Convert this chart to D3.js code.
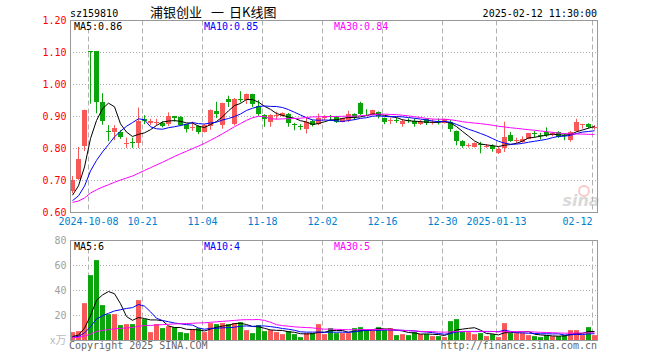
<!DOCTYPE html>
<html><head><meta charset="utf-8">
<script src="https://cdn.jsdelivr.net/npm/d3@7/dist/d3.min.js"></script>
<style>html,body{margin:0;padding:0;background:#fff;}svg{display:block;}</style>
</head><body>
<svg id="chart" width="660" height="360"></svg>
<script>
const dates = ["2024-09-26","2024-09-27","2024-09-30","2024-10-08","2024-10-09","2024-10-10","2024-10-11","2024-10-14","2024-10-15","2024-10-16","2024-10-17","2024-10-18","2024-10-21","2024-10-22","2024-10-23","2024-10-24","2024-10-25","2024-10-28","2024-10-29","2024-10-30","2024-10-31","2024-11-01","2024-11-04","2024-11-05","2024-11-06","2024-11-07","2024-11-08","2024-11-11","2024-11-12","2024-11-13","2024-11-14","2024-11-15","2024-11-18","2024-11-19","2024-11-20","2024-11-21","2024-11-22","2024-11-25","2024-11-26","2024-11-27","2024-11-28","2024-11-29","2024-12-02","2024-12-03","2024-12-04","2024-12-05","2024-12-06","2024-12-09","2024-12-10","2024-12-11","2024-12-12","2024-12-13","2024-12-16","2024-12-17","2024-12-18","2024-12-19","2024-12-20","2024-12-23","2024-12-24","2024-12-25","2024-12-26","2024-12-27","2024-12-30","2024-12-31","2025-01-02","2025-01-03","2025-01-06","2025-01-07","2025-01-08","2025-01-09","2025-01-10","2025-01-13","2025-01-14","2025-01-15","2025-01-16","2025-01-17","2025-01-20","2025-01-21","2025-01-22","2025-01-23","2025-01-24","2025-01-27","2025-02-05","2025-02-06","2025-02-07","2025-02-10","2025-02-11","2025-02-12"];
const opens = [0.668,0.705,0.808,1.104,1.104,0.944,0.856,0.852,0.853,0.813,0.821,0.816,0.891,0.879,0.881,0.881,0.875,0.901,0.899,0.875,0.864,0.870,0.853,0.870,0.917,0.873,0.954,0.875,0.955,0.951,0.970,0.933,0.904,0.883,0.902,0.902,0.909,0.875,0.870,0.862,0.887,0.876,0.894,0.900,0.898,0.884,0.889,0.909,0.941,0.905,0.906,0.914,0.895,0.887,0.890,0.876,0.889,0.885,0.877,0.892,0.881,0.886,0.881,0.883,0.854,0.824,0.808,0.806,0.815,0.806,0.807,0.787,0.800,0.841,0.825,0.821,0.831,0.848,0.843,0.852,0.845,0.852,0.843,0.826,0.855,0.874,0.878,0.864];
const highs = [0.714,0.805,0.921,1.104,1.104,0.973,0.873,0.873,0.857,0.834,0.834,0.928,0.904,0.893,0.893,0.885,0.913,0.902,0.901,0.877,0.884,0.873,0.877,0.922,0.946,0.943,0.965,0.958,0.979,0.972,0.971,0.951,0.907,0.907,0.915,0.913,0.911,0.880,0.876,0.899,0.890,0.909,0.904,0.905,0.902,0.896,0.918,0.910,0.946,0.923,0.921,0.916,0.897,0.896,0.896,0.892,0.894,0.894,0.889,0.894,0.892,0.894,0.893,0.889,0.856,0.826,0.816,0.819,0.821,0.814,0.813,0.805,0.884,0.852,0.834,0.838,0.849,0.855,0.849,0.866,0.852,0.854,0.847,0.855,0.893,0.877,0.879,0.873];
const lows = [0.660,0.702,0.792,0.940,0.910,0.874,0.823,0.826,0.830,0.802,0.802,0.802,0.876,0.873,0.873,0.866,0.870,0.884,0.870,0.850,0.855,0.845,0.850,0.858,0.895,0.862,0.930,0.872,0.944,0.939,0.930,0.902,0.868,0.868,0.891,0.900,0.868,0.857,0.858,0.847,0.869,0.873,0.888,0.886,0.880,0.882,0.883,0.889,0.904,0.902,0.904,0.894,0.876,0.876,0.880,0.868,0.880,0.868,0.873,0.873,0.875,0.875,0.878,0.852,0.810,0.802,0.803,0.803,0.785,0.802,0.790,0.783,0.789,0.821,0.816,0.818,0.829,0.834,0.828,0.836,0.838,0.833,0.826,0.821,0.852,0.862,0.862,0.859];
const closes = [0.701,0.767,0.920,1.103,0.946,0.886,0.853,0.864,0.836,0.818,0.817,0.886,0.887,0.886,0.884,0.871,0.901,0.894,0.874,0.860,0.868,0.852,0.874,0.920,0.908,0.941,0.946,0.956,0.953,0.970,0.938,0.907,0.891,0.906,0.904,0.910,0.881,0.872,0.868,0.883,0.872,0.894,0.901,0.897,0.884,0.894,0.909,0.899,0.909,0.903,0.920,0.903,0.883,0.890,0.888,0.885,0.887,0.877,0.883,0.879,0.884,0.884,0.892,0.860,0.823,0.808,0.811,0.816,0.813,0.808,0.797,0.797,0.836,0.824,0.827,0.831,0.847,0.846,0.841,0.842,0.848,0.837,0.841,0.852,0.883,0.876,0.866,0.867];
const volumes = [6.7,7.5,29.9,52.3,64.3,28.3,21.1,21.1,12.3,13.1,13.1,32.3,17.1,6.7,13.1,9.9,11.5,10.7,6.7,5.9,9.1,9.9,6.7,13.9,13.1,13.9,13.1,13.9,14.7,8.3,5.9,12.3,7.5,8.3,6.7,5.1,7.5,5.1,2.7,5.9,5.9,13.1,5.1,9.9,5.9,5.9,5.9,9.9,10.7,8.3,8.3,10.7,8.3,9.9,4.3,5.1,4.3,6.7,5.1,5.1,3.5,3.5,2.7,15.5,17.1,6.7,6.7,5.1,5.9,3.5,5.1,2.7,13.9,5.9,5.9,5.9,4.3,3.5,2.7,4.3,3.5,3.5,4.3,8.3,8.3,4.3,10.7,4.3];
// closes / volumes of the 29 sessions before the first shown bar (only feed the moving averages)
const priorCloses = [0.641,0.638,0.640,0.636,0.633,0.635,0.631,0.628,0.630,0.626,0.629,0.625,0.627,0.624,0.622,0.626,0.623,0.620,0.624,0.622,0.615,0.620,0.625,0.618,0.622,0.620,0.625,0.660,0.664];
const priorVolumes = [2.3,2.1,2.2,2.4,2.0,2.2,2.3,2.1,2.2,2.4,2.2,2.0,2.3,2.2,2.1,2.4,2.2,2.3,2.1,2.2,2.2,2.1,2.3,2.2,2.2,2.0,2.1,2.6,2.6];
const tickDates = ["2024-10-08","2024-10-21","2024-11-04","2024-11-18","2024-12-02","2024-12-16","2024-12-30","2025-01-13","2025-02-12"];
const tickLabels = ["2024-10-08","10-21","11-04","11-18","12-02","12-16","12-30","2025-01-13","02-12"];
const priceTicks = [0.60,0.70,0.80,0.90,1.00,1.10,1.20];
const volumeTicks = [20,40,60,80];
const maPeriods = [5,10,30];
const priceMaLabels = ["MA5:0.86","MA10:0.85","MA30:0.84"];
const volumeMaLabels = ["MA5:6","MA10:4","MA30:5"];
const titleParts = ["浦银创业","一","日K线图"];
const code = "sz159810";
const stamp = "2025-02-12 11:30:00";

const RED = "#f85858", GREEN = "#0aa50a";
const maColors = ["#000000","#0000ff","#ff00ff"];
const MONO = "'DejaVu Sans Mono', monospace";
const CJK = "'Noto Sans CJK SC', sans-serif";

const svg = d3.select("#chart");
const x = d3.scaleBand().domain(dates).range([70, 598]).padding(0);
const yP = d3.scaleLinear().domain([0.6, 1.2]).range([212.5, 20.5]);
const yV = d3.scaleLinear().domain([0, 80]).range([340.5, 240.5]);
const cx = d => x(d) + 2.5;

function movingAvg(prior, vals, n) {
  const all = prior.concat(vals), off = prior.length;
  return vals.map((v, i) => d3.mean(all.slice(off + i - n + 1, off + i + 1)));
}

const bars = dates.map((d, i) => ({d, o: opens[i], h: highs[i], l: lows[i], c: closes[i], v: volumes[i]}));
const colorOf = b => b.c >= b.o ? RED : GREEN;

// titles
svg.append("text").attr("x", 70).attr("y", 16.5).attr("font-family", MONO).attr("font-size", 10).attr("fill", "#000").text(code);
const titleX = [150, 211, 229];
titleParts.forEach((t, k) => {
  svg.append("text").attr("x", titleX[k]).attr("y", 17).attr("font-family", CJK).attr("font-size", 13).attr("fill", "#000").text(t);
});
svg.append("text").attr("x", 597).attr("y", 16.5).attr("text-anchor", "end").attr("font-family", MONO).attr("font-size", 10).attr("fill", "#000").text(stamp);

// grids
const gridG = svg.append("g");
priceTicks.filter(t => t > 0.6 && t < 1.2).forEach(t => {
  gridG.append("line").attr("x1", 70).attr("x2", 597).attr("y1", yP(t)).attr("y2", yP(t))
    .attr("stroke", "#aaa").attr("stroke-dasharray", "1,2");
});
volumeTicks.filter(t => t < 80).forEach(t => {
  gridG.append("line").attr("x1", 70).attr("x2", 597).attr("y1", yV(t)).attr("y2", yV(t))
    .attr("stroke", "#aaa").attr("stroke-dasharray", "1,2");
});
tickDates.forEach(d => {
  const gx = x(d) + 0.5;
  [[yP(1.2), yP(0.6)], [yV(80), yV(0)]].forEach(([a, b]) => {
    gridG.append("line").attr("x1", gx).attr("x2", gx).attr("y1", a).attr("y2", b)
      .attr("stroke", "#b0b0b0").attr("stroke-dasharray", "5,3");
  });
});

// watermark
const wm = svg.append("g").attr("opacity", 0.55);
wm.append("circle").attr("cx", 584).attr("cy", 191).attr("r", 5).attr("fill", "none").attr("stroke", "#f2a0a0").attr("stroke-width", 2);
wm.append("text").attr("x", 581).attr("y", 206).attr("text-anchor", "middle").attr("font-family", "'DejaVu Sans', sans-serif")
  .attr("font-style", "italic").attr("font-weight", "bold").attr("font-size", 16).attr("fill", "#bbb").text("sina");

// candles
const cg = svg.append("g");
bars.forEach(b => {
  const col = colorOf(b);
  cg.append("line").attr("x1", cx(b.d)).attr("x2", cx(b.d)).attr("y1", yP(b.h)).attr("y2", yP(b.l))
    .attr("stroke", col).attr("stroke-width", 1);
  const top = yP(Math.max(b.o, b.c)), bot = yP(Math.min(b.o, b.c));
  cg.append("rect").attr("x", x(b.d)).attr("width", 5).attr("y", Math.round(top))
    .attr("height", Math.max(1, Math.round(bot) - Math.round(top))).attr("fill", col);
});

// volume bars
const vg = svg.append("g");
bars.forEach(b => {
  vg.append("rect").attr("x", x(b.d)).attr("width", 5).attr("y", yV(b.v)).attr("height", yV(0) - yV(b.v)).attr("fill", colorOf(b));
});

// moving averages
maPeriods.forEach((n, k) => {
  const mp = movingAvg(priorCloses, closes, n);
  svg.append("path").datum(mp).attr("fill", "none").attr("stroke", maColors[k]).attr("stroke-width", 1)
    .attr("d", d3.line().x((v, i) => cx(dates[i])).y(v => yP(v)));
  const mv = movingAvg(priorVolumes, volumes, n);
  svg.append("path").datum(mv).attr("fill", "none").attr("stroke", maColors[k]).attr("stroke-width", 1)
    .attr("d", d3.line().x((v, i) => cx(dates[i])).y(v => yV(v)));
});

// frames
svg.append("rect").attr("x", 70.5).attr("y", 20.5).attr("width", 527).attr("height", 192).attr("fill", "none").attr("stroke", "#999");
svg.append("rect").attr("x", 70.5).attr("y", 240.5).attr("width", 527).attr("height", 100).attr("fill", "none").attr("stroke", "#999");

// price axis labels
priceTicks.forEach(t => {
  svg.append("text").attr("x", 66.5).attr("y", yP(t) + 3.7).attr("text-anchor", "end")
    .attr("font-family", MONO).attr("font-size", 10).attr("fill", "#ff0000").text(t.toFixed(2));
});
volumeTicks.forEach(t => {
  svg.append("text").attr("x", 66.5).attr("y", yV(t) + 3.7).attr("text-anchor", "end")
    .attr("font-family", MONO).attr("font-size", 10).attr("fill", "#a0a0a0").text(t);
});
svg.append("text").attr("x", 50).attr("y", 344).attr("font-family", CJK).attr("font-size", 11).attr("fill", "#bbb").text("x万");

// date labels
tickDates.forEach((d, i) => {
  const last = i === tickDates.length - 1;
  svg.append("text").attr("x", x(d) + 0.5).attr("y", 225).attr("text-anchor", last ? "end" : "middle")
    .attr("font-family", MONO).attr("font-size", 10).attr("fill", "#0080d0").text(tickLabels[i]);
});

// MA labels
const labelX = [74, 204, 334];
priceMaLabels.forEach((t, k) => {
  svg.append("text").attr("x", labelX[k]).attr("y", 29.5).attr("font-family", MONO).attr("font-size", 10).attr("fill", maColors[k]).text(t);
});
volumeMaLabels.forEach((t, k) => {
  svg.append("text").attr("x", labelX[k]).attr("y", 249.5).attr("font-family", MONO).attr("font-size", 10).attr("fill", maColors[k]).text(t);
});

// footer
svg.append("text").attr("x", 69).attr("y", 348.5).attr("font-family", MONO).attr("font-size", 10).attr("fill", "#666").text("Copyright 2025 SINA.COM");
svg.append("text").attr("x", 597).attr("y", 348.5).attr("text-anchor", "end").attr("font-family", MONO).attr("font-size", 10).attr("fill", "#666").text("http://finance.sina.com.cn");
</script>
</body></html>
